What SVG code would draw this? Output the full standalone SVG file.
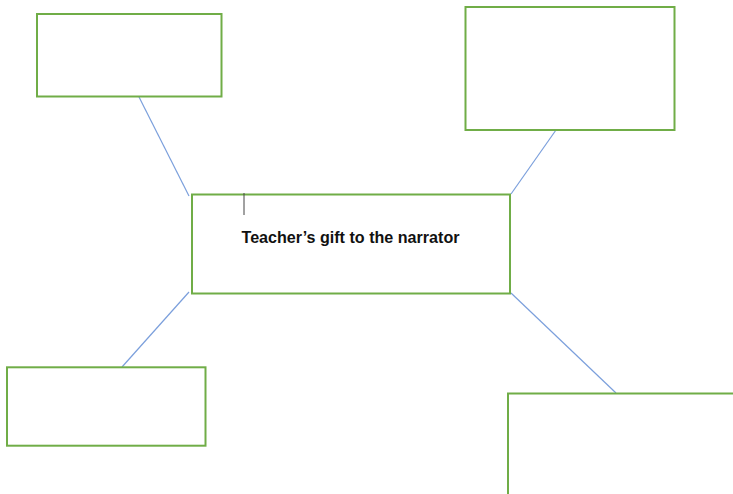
<svg xmlns="http://www.w3.org/2000/svg" width="733" height="494" viewBox="0 0 733 494">
<style>
.box{fill:#fff;stroke:#70AD47;stroke-width:2}
.conn{stroke:#7B9FDC;stroke-width:1.2;fill:none}
.lbl{font-family:"Liberation Sans",Arial,sans-serif;font-weight:bold;font-size:17px;fill:#111}
</style>
<rect width="733" height="494" fill="#fff"/>
<g id="connectors">
<line class="conn" x1="139" y1="97" x2="189" y2="196"/>
<line class="conn" x1="556" y1="130" x2="511" y2="194"/>
<line class="conn" x1="122" y1="367" x2="189" y2="292"/>
<line class="conn" x1="511" y1="293" x2="616" y2="393"/>
</g>
<g id="center">
<rect class="box" x="192" y="194.5" width="318" height="99"/>
<line x1="244" y1="193" x2="244" y2="215" stroke="#444" stroke-width="1"/>
<text class="lbl" x="241.5" y="243" textLength="218" lengthAdjust="spacingAndGlyphs">Teacher’s gift to the narrator</text>
</g>
<g id="top-left"><rect class="box" x="37" y="14" width="184.5" height="82.5"/></g>
<g id="top-right"><rect class="box" x="465.5" y="7" width="209" height="123"/></g>
<g id="bottom-left"><rect class="box" x="7" y="367.3" width="198.5" height="78.4"/></g>
<g id="bottom-right"><rect class="box" x="508" y="393.5" width="240" height="120"/></g>
</svg>
